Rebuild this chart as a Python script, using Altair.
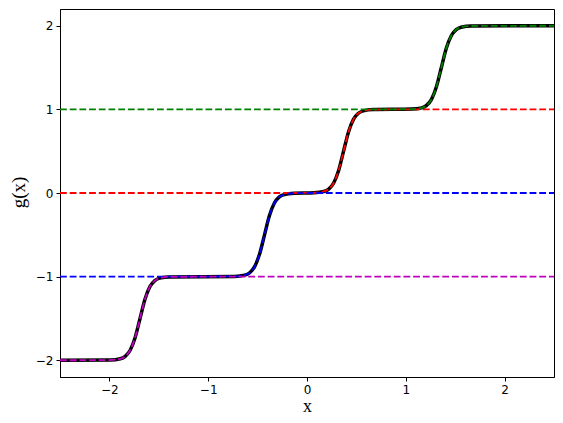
import altair as alt
import pandas as pd
import numpy as np

# Staircase curve g(x)
x_vals = [-2.5, -1.99, -1.89, -1.84, -1.79, -1.74, -1.69, -1.64, -1.59, -1.54, -1.49, -1.39,
          -0.73, -0.63, -0.58, -0.53, -0.48, -0.43, -0.38, -0.33, -0.28, -0.23, -0.13,
          0.07, 0.17, 0.22, 0.27, 0.32, 0.37, 0.42, 0.47, 0.52, 0.57, 0.67,
          1.06, 1.16, 1.21, 1.26, 1.31, 1.36, 1.41, 1.46, 1.51, 1.56, 1.66, 2.5]
g_vals = [-2.0, -1.997, -1.982, -1.953, -1.88, -1.73, -1.5, -1.27, -1.12, -1.047, -1.018, -1.003,
          -0.997, -0.982, -0.953, -0.88, -0.73, -0.5, -0.27, -0.12, -0.047, -0.018, -0.003,
          0.003, 0.018, 0.047, 0.12, 0.27, 0.5, 0.73, 0.88, 0.953, 0.982, 0.997,
          1.003, 1.018, 1.047, 1.12, 1.27, 1.5, 1.73, 1.88, 1.953, 1.982, 1.997, 2.0]

# clipped pieces: (lower, upper, colour), in drawing order
pieces = [(0, 1, "#ff0000"), (1, 2, "#008000"), (-1, 0, "#0000ff"), (-2, -1, "#bf00bf")]

x_ticks = [-2, -1, 0, 1, 2]
y_ticks = [-2, -1, 0, 1, 2]

df = pd.DataFrame({"x": x_vals, "g": g_vals})

W, H = 494, 368
xs = alt.Scale(domain=[-2.5, 2.5], nice=False, zero=False)
ys = alt.Scale(domain=[-2.2, 2.2], nice=False, zero=False)

common = dict(grid=False, tickSize=4, tickWidth=1, labelPadding=3,
              labelFont="DejaVu Sans", labelFontSize=12, labelColor="black",
              tickColor="black", domainColor="black",
              titleFont="Liberation Serif", titleFontWeight="normal",
              titleColor="black")
xaxis = alt.Axis(values=x_ticks, format="d", title="x", titleFontSize=18,
                 titleX=W / 2, titleY=38, titleBaseline="bottom", titleAlign="center", **common)
yaxis = alt.Axis(values=y_ticks, format="d", title="g(x)", titleFontSize=19,
                 titleX=-42, titleY=183, titleAngle=-90, titleBaseline="middle",
                 titleAlign="center", **common)

base = alt.Chart(df)
layers = [base.mark_line(color="black", strokeWidth=3.5, interpolate="monotone").encode(
    x=alt.X("x:Q", scale=xs, axis=xaxis),
    y=alt.Y("g:Q", scale=ys, axis=yaxis),
)]
for lo, hi, col in pieces:
    d = pd.DataFrame({"x": x_vals, "v": np.clip(np.array(g_vals), lo, hi)})
    layers.append(alt.Chart(d).mark_line(color=col, strokeWidth=1.8, strokeDash=[6.8, 2.9],
                                          interpolate="monotone").encode(
        x=alt.X("x:Q", scale=xs),
        y=alt.Y("v:Q", scale=ys),
    ))

chart = alt.layer(*layers).properties(
    width=W, height=H,
    autosize=alt.AutoSizeParams(type="none"),
    padding={"left": 52, "top": 1, "right": 1, "bottom": 38},
).configure(
    background="white",
    view=alt.ViewConfig(stroke="black", strokeWidth=1),
)

chart.save("out.html", embed_options={"renderer": "svg", "actions": False})
